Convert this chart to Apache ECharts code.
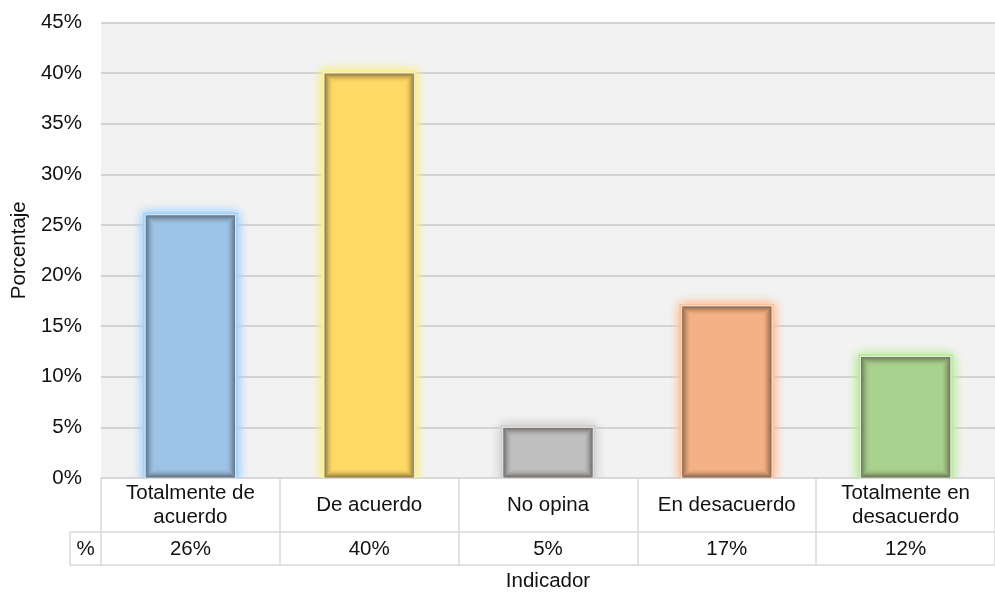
<!DOCTYPE html>
<html>
<head>
<meta charset="utf-8">
<script src="https://cdn.jsdelivr.net/npm/echarts@6/dist/echarts.min.js"></script>
<style>html,body{margin:0;padding:0;background:#fff;}#c{width:995px;height:592px;}</style>
</head>
<body>
<div id="c"></div>
<script>
const categories = ['Totalmente de\nacuerdo', 'De acuerdo', 'No opina', 'En desacuerdo', 'Totalmente en\ndesacuerdo'];
const values = [26, 40, 5, 17, 12];
const yTicks = [0, 45, 5]; // min, max, interval
const fills = ['#9dc3e6', '#ffd966', '#bfbfbf', '#f4b183', '#a9d18e'];
const glows = ['#a2d2fb', '#f8ef86', '#d0d0d0', '#fcc096', '#bbeb9c'];

const FONT = "'Liberation Sans', Arial, sans-serif";
const FS = 20.5;
const TXT = '#111111';
const LINE = '#d9d9d9';

const chart = echarts.init(document.getElementById('c'), null, {renderer: 'canvas'});

function renderItem(params, api) {
  const i = api.value(0), v = api.value(1);
  const top = api.coord([i, v]);
  const base = api.coord([i, 0]);
  const w = api.size([1, 0])[0] * 0.505;
  const x = top[0] - w / 2, y = top[1], h = base[1] - top[1];
  const children = [];
  for (let r = 0; r < 2; r++) {
    children.push({type: 'rect', shape: {x: x - 2, y: y - 2, width: w + 4, height: h + 4},
      style: {fill: glows[i], shadowBlur: 10, shadowColor: glows[i]}});
  }
  children.push({type: 'rect', shape: {x: x, y: y, width: w, height: h},
    style: {fill: fills[i]}});
  const N = 9;
  for (let k = 0; k < N; k++) {
    const a = 0.55 * Math.pow(1 - k / N, 1.8);
    children.push({type: 'rect',
      shape: {x: x + k + 0.5, y: y + k + 0.5, width: w - 2 * k - 1, height: h - 2 * k - 1},
      style: {fill: null, stroke: 'rgba(35,28,20,' + a.toFixed(3) + ')', lineWidth: 1}});
  }
  children.push({type: 'rect', shape: {x: x, y: y, width: w, height: h},
    style: {fill: null, stroke: 'rgba(255,255,255,0.8)', lineWidth: 1}});
  return {type: 'group', children: children};
}

const option = {
  backgroundColor: '#ffffff',
  animation: false,
  textStyle: {fontFamily: FONT},
  grid: {left: 101, right: 0, top: 22.5, bottom: 114, show: true, backgroundColor: '#f2f2f2', borderWidth: 0,
    containLabel: false, outerBoundsMode: 'none'},
  xAxis: [
    {
      type: 'category', data: categories, position: 'bottom',
      axisLine: {show: true, lineStyle: {color: LINE, width: 1.5}},
      axisTick: {show: true, interval: 0, length: 87, lineStyle: {color: LINE, width: 1.5}},
      axisLabel: {interval: 0, margin: 27, verticalAlign: 'middle', color: TXT, fontSize: FS, lineHeight: 24, fontFamily: FONT},
      splitLine: {show: false}
    },
    {
      type: 'category', data: values.map(v => v + '%'), position: 'bottom', offset: 54,
      axisLine: {show: true, lineStyle: {color: LINE, width: 1.5}},
      axisTick: {show: false},
      axisLabel: {interval: 0, margin: 17, verticalAlign: 'middle', color: TXT, fontSize: FS, fontFamily: FONT}
    },
    {
      type: 'category', data: categories.map(() => ''), position: 'bottom', offset: 87,
      axisLine: {show: true, lineStyle: {color: LINE, width: 1.5}},
      axisTick: {show: false}, axisLabel: {show: false},
      name: 'Indicador', nameLocation: 'middle', nameGap: 6,
      nameTextStyle: {color: TXT, fontSize: FS, fontFamily: FONT, verticalAlign: 'top'}
    }
  ],
  yAxis: {
    type: 'value', min: yTicks[0], max: yTicks[1], interval: yTicks[2],
    axisLine: {show: false}, axisTick: {show: false},
    axisLabel: {formatter: '{value}%', color: TXT, fontSize: FS, margin: 19, fontFamily: FONT},
    splitLine: {show: true, lineStyle: {color: '#c9c9c9', width: 1.5}},
    name: 'Porcentaje', nameLocation: 'middle', nameGap: 69,
    nameTextStyle: {color: TXT, fontSize: FS, fontFamily: FONT}
  },
  graphic: [
    {type: 'line', shape: {x1: 70, y1: 532, x2: 101, y2: 532}, style: {stroke: LINE, lineWidth: 1.5}},
    {type: 'line', shape: {x1: 70, y1: 565, x2: 101, y2: 565}, style: {stroke: LINE, lineWidth: 1.5}},
    {type: 'line', shape: {x1: 70, y1: 532, x2: 70, y2: 565}, style: {stroke: LINE, lineWidth: 1.5}},
    {type: 'text', x: 85.5, y: 549, style: {text: '%', fill: TXT, font: FS + 'px ' + FONT, textAlign: 'center', textVerticalAlign: 'middle'}}
  ],
  series: [{
    type: 'custom', xAxisIndex: 0, clip: true,
    renderItem: renderItem,
    encode: {x: 0, y: 1},
    data: values.map((v, i) => [i, v])
  }]
};
chart.setOption(option);
</script>
</body>
</html>
